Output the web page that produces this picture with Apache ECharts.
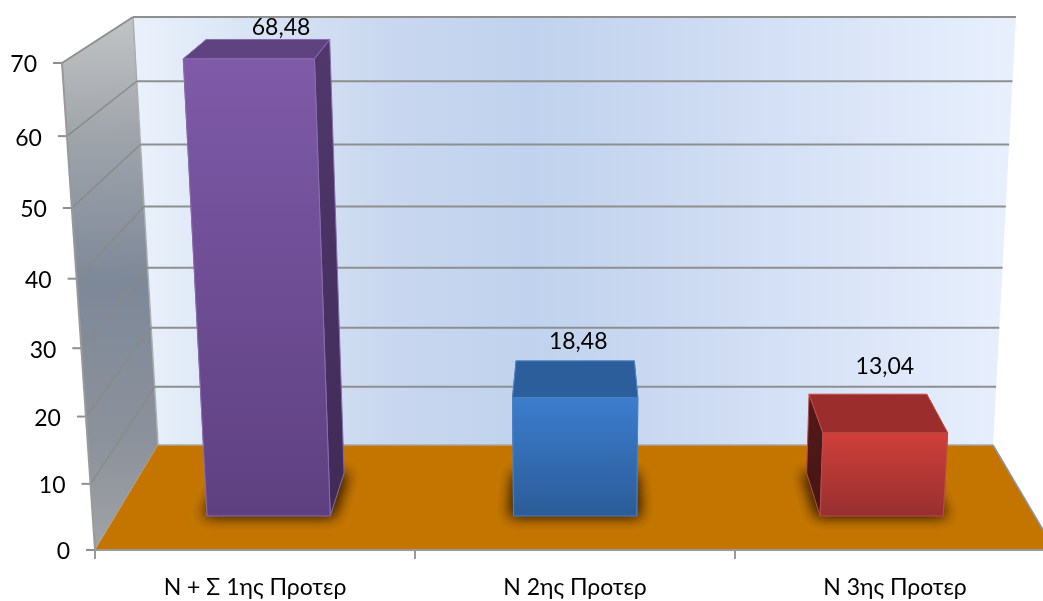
<!DOCTYPE html>
<html>
<head>
<meta charset="utf-8">
<style>html,body{margin:0;padding:0;background:#fff}#c{width:1043px;height:601px}</style>
<script src="https://cdn.jsdelivr.net/npm/echarts@6/dist/echarts.min.js"></script>
</head>
<body>
<div id="c"></div>
<script>
const categories = ['N + Σ 1ης Προτερ', 'Ν 2ης Προτερ', 'Ν 3ης Προτερ'];
const barValues = [68.48, 18.48, 13.04];
const barLabels = ['68,48', '18,48', '13,04'];
const yTicks = [0, 10, 20, 30, 40, 50, 60, 70];
const yTickLabels = ['0', '10', '20', '30', '40', '50', '60', '70'];

const AX_MAX = 70;
const FONT = 'Lato, "Open Sans", sans-serif';
const FS = 23;
const GRID = '#8f8f8f';
// per-bar look: front gradient, top, side, edge
const looks = [
  {f0:'#7E5AA8', f1:'#5E4080', top:'#5F4280', s0:'#50386C', s1:'#3F2B56', edge:'#8A6BB0'},
  {f0:'#3C7DCD', f1:'#2C5C98', top:'#2B5E9A', s0:'#2B5E9A', s1:'#2B5E9A', edge:'#4A82C4'},
  {f0:'#D03F3A', f1:'#963030', top:'#9B2E2C', s0:'#521A1A', s1:'#451515', edge:'#BE4B48'}
];
const labelNudge = [[13,-12],[3,-19],[17,-28]];
const BAR_HALF = 0.201, D_FRONT = 0.324, D_BACK = 0.733;
const OFF = 3000; // shadow caster sits off-canvas so only its soft shadow shows

const lerp = (a,b,t)=>[a[0]+(b[0]-a[0])*t, a[1]+(b[1]-a[1])*t];
const warp = V => V/(V+1.06*(1-V));

// Maps (category position, value, depth) through the axes' pixels into the 3D view.
function proj(api, cat, val, d){
  const o = api.coord([0,0]);
  const band = api.size([1,0])[0];
  const top = api.coord([0,AX_MAX])[1];
  const y = api.coord([0,val])[1];
  const s = warp((o[1]-y)/(o[1]-top));
  const U = (cat+0.5)/categories.length;
  const l0 = o[0]-band/2, r0 = l0+band*categories.length;
  const BL=[l0+63*d,o[1]-105*d], BR=[r0-62*d,o[1]-105*d];
  const TL=[l0-33+71*d,top-46*d], TR=[r0+34-73*d,top-46*d];
  return lerp(lerp(BL,TL,s), lerp(BR,TR,s), U);
}
const poly = (points, style, z2)=>({type:'polygon', shape:{points}, style, z2:z2||0, silent:true});
const line = (a,b,stroke,w,z2)=>({type:'line', shape:{x1:a[0],y1:a[1],x2:b[0],y2:b[1]}, style:{stroke,lineWidth:w,fill:null}, z2:z2||0, silent:true});
const grad = (x2,y2,stops)=>({type:'linear',x:0,y:0,x2,y2,colorStops:stops.map(s=>({offset:s[0],color:s[1]}))});

function renderRoom(params, api){
  const n = categories.length, L=-0.5, R=n-0.5;
  const P=(c,v,d)=>proj(api,c,v,d);
  const ch=[];
  ch.push(poly([P(L,AX_MAX,1),P(R,AX_MAX,1),P(R,0,1),P(L,0,1)],{fill:grad(1,0,[
    [0,'#EAF1FB'],[0.13,'#D9E4F4'],[0.3,'#C8D7EF'],[0.45,'#C0D2ED'],[0.6,'#CAD9F1'],[0.8,'#D9E4F7'],[1,'#E8F0FD']])}));
  ch.push(poly([P(L,AX_MAX,0),P(L,AX_MAX,1),P(L,0,1),P(L,0,0)],{fill:grad(0.2,1,[
    [0,'#C2C5C6'],[0.22,'#A0A5AB'],[0.5,'#7D8898'],[0.8,'#8C929B'],[1,'#A0A3A6']])}));
  ch.push(poly([P(L,0,0),P(L,0,1),P(R,0,1),P(R,0,0)],{fill:'#C47500'},2));
  ch.push(line(P(L,0,1),P(R,0,1),'#A8A8A0',1.5,3));
  ch.push(line(P(R,0,1),P(R,0,0),'#8f959b',1.5,3));
  ch.push(line(P(L,0,1),P(L,AX_MAX,1),'#A9ADB1',1.5,1));
  yTicks.forEach((t,i)=>{
    if(t>0){
      ch.push(line(P(L,t,1),P(R,t,1),GRID,2,1));
      ch.push(line(P(L,t,0),P(L,t,1),t===AX_MAX?GRID:'#8a8a86',t===AX_MAX?2:1.5,1));
    }
    const f=P(L,t,0);
    ch.push(line([f[0]-9,f[1]],f,GRID,2,4));
    ch.push({type:'text',silent:true,z2:5,style:{text:yTickLabels[i],x:f[0]-25,y:f[1]+2,textAlign:'right',textVerticalAlign:'middle',fill:'#000',font:FS+'px '+FONT}});
  });
  ch.push(line(P(L,0,0),P(L,AX_MAX,0),'#999',2,4));
  return {type:'group',children:ch};
}

function renderBar(params, api){
  const i=api.value(0), v=api.value(1), k=looks[i];
  const a=i-BAR_HALF, b=i+BAR_HALF;
  const P=(c,val,d)=>proj(api,c,val,d);
  const stroke={stroke:k.edge,lineWidth:1,lineJoin:'round'};
  const top=P(i,v,D_BACK);
  const sa=a-0.012, sb=b+0.012, sf=D_FRONT-0.005;
  const caster=[P(sa,0,sf),P(sb,0,sf),P(sb,0,D_BACK),P(sa,0,D_BACK)].map(p=>[p[0]-OFF,p[1]]);
  const shadowStyle={fill:'#000',shadowBlur:14,shadowOffsetX:OFF,shadowColor:'rgba(50,25,0,0.72)'};
  return {type:'group',children:[
    poly(caster,shadowStyle,0),
    poly(caster,shadowStyle,0),
    poly([P(a,0,D_FRONT),P(a,v,D_FRONT),P(a,v,D_BACK),P(a,0,D_BACK)],Object.assign({fill:grad(0,1,[[0,k.s0],[1,k.s1]])},stroke),1),
    poly([P(b,0,D_FRONT),P(b,v,D_FRONT),P(b,v,D_BACK),P(b,0,D_BACK)],Object.assign({fill:grad(0,1,[[0,k.s0],[1,k.s1]])},stroke),2),
    poly([P(a,v,D_FRONT),P(b,v,D_FRONT),P(b,v,D_BACK),P(a,v,D_BACK)],Object.assign({fill:k.top},stroke),3),
    poly([P(a,0,D_FRONT),P(b,0,D_FRONT),P(b,v,D_FRONT),P(a,v,D_FRONT)],Object.assign({fill:grad(0,1,[[0,k.f0],[1,k.f1]])},stroke),4),
    {type:'text',silent:true,z2:6,style:{text:barLabels[i],x:top[0]+labelNudge[i][0],y:top[1]+labelNudge[i][1],textAlign:'center',textVerticalAlign:'middle',fill:'#000',font:FS+'px '+FONT}}
  ]};
}

const chart = echarts.init(document.getElementById('c'),null,{renderer:'canvas'});
chart.setOption({
  animation:false,
  backgroundColor:'#fff',
  grid:{left:95,width:960,top:63,height:487,containLabel:false,outerBoundsMode:'none'},
  xAxis:{type:'category',data:categories,z:5,
    axisLine:{show:true,lineStyle:{color:'#999',width:2}},
    axisTick:{show:true,alignWithLabel:false,length:9,lineStyle:{color:'#999',width:2}},
    axisLabel:{color:'#000',fontFamily:FONT,fontSize:23,margin:26,interval:0},
    splitLine:{show:false}},
  yAxis:{type:'value',min:0,max:AX_MAX,interval:10,show:false},
  series:[
    {type:'custom',name:'room',z:1,data:[[0,0]],renderItem:renderRoom,silent:true,clip:false},
    {type:'custom',name:'bars',z:3,data:barValues.map((v,i)=>[i,v]),renderItem:renderBar,silent:true,clip:false,encode:{x:0,y:1}}
  ]
});
</script>
</body>
</html>
